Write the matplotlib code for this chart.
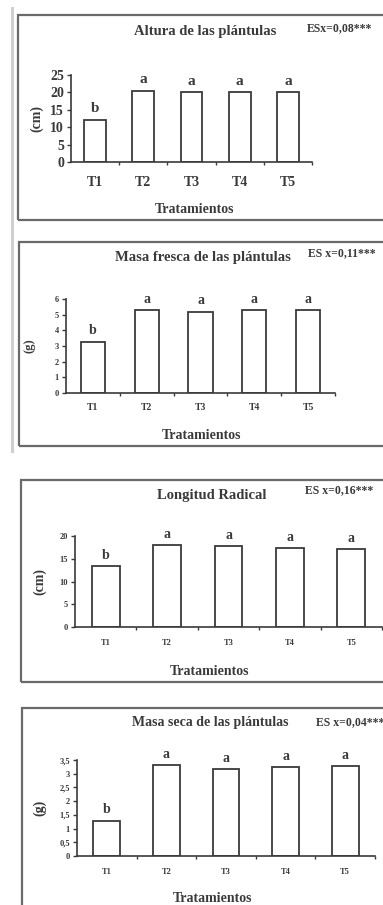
import matplotlib
matplotlib.use("Agg")
import matplotlib.pyplot as plt
from matplotlib.patches import Rectangle
from matplotlib.lines import Line2D

W, H = 383, 905

treatments = ["T1", "T2", "T3", "T4", "T5"]
letters = ["b", "a", "a", "a", "a"]

altura = [12.2, 20.5, 20.2, 20.2, 20.2]
masa_fresca = [3.28, 5.28, 5.20, 5.28, 5.28]
longitud = [13.3, 18.0, 17.8, 17.4, 17.2]
masa_seca = [1.29, 3.32, 3.16, 3.24, 3.28]

titles = ["Altura de las plántulas", "Masa fresca de las plántulas",
          "Longitud Radical", "Masa seca de las plántulas"]
es_labels = ["ESx=0,08***", "ES x=0,11***", "ES x=0,16***", "ES x=0,04***"]
ylabels = ["(cm)", "(g)", "(cm)", "(g)"]
yticks = [[0, 5, 10, 15, 20, 25], [0, 1, 2, 3, 4, 5, 6],
          [0, 5, 10, 15, 20], [0, 0.5, 1, 1.5, 2, 2.5, 3, 3.5]]
ymax = [25, 6, 20, 3.5]
values = [altura, masa_fresca, longitud, masa_seca]

# layout in pixels: frame (x, top, bottom), axes (x0, x1, top, zero)
frames = [(18, 15, 220), (19, 242, 446), (21, 480, 682), (22, 708, 912)]
axes_px = [(71, 312, 75, 162), (66, 335, 299, 393),
           (75, 382, 536, 627), (77, 375, 760, 856)]
title_pos = [(205, 32), (203, 258), (212, 495), (210, 722)]
es_pos = [(307, 28), (308, 253), (305, 490), (316, 722)]
xlab_pos = [(195, 209), (202, 435), (210, 671), (213, 898)]
ylab_x = [37, 30, 40, 40]
xtick_size = [10, 7, 6, 6]
ytick_size = [10, 6, 6, 6]
xtick_pad = [10, 7, 8.5, 8.5]
title_size = [10.5, 10.5, 10.5, 10]
ylab_size = [10, 9, 10, 10]
letter_size = [11, 10, 10, 10]

font = "Liberation Serif"
ink = "#3a3a3a"


def fx(px):
    return px / W


def fy(py):
    return 1 - py / H


fig = plt.figure(figsize=(W / 100, H / 100), dpi=100)

# faint margin line on the left of the first two panels
fig.add_artist(Line2D([fx(12), fx(12)], [fy(8), fy(451)], color="#d0d0d0", lw=2.2))

for i in range(4):
    x, top, bottom = frames[i]
    fig.add_artist(Rectangle((fx(x), fy(bottom)), fx(W + 20 - x), (bottom - top) / H,
                             fill=False, ec="#6a6a6a", lw=1.6))

    x0, x1, t, z = axes_px[i]
    ax = fig.add_axes([fx(x0), fy(z), (x1 - x0) / W, (z - t) / H])
    ax.bar(range(5), values[i], width=0.45, color="white", edgecolor=ink, linewidth=1.3)
    for k, v in enumerate(values[i]):
        ax.annotate(letters[k], (k, v), xytext=(0, 3), textcoords="offset points",
                    ha="center", va="bottom", fontsize=letter_size[i],
                    fontweight="bold", family=font, color=ink)

    ax.set_xlim(-0.5, 4.5)
    ax.set_ylim(0, ymax[i])
    ax.set_yticks(yticks[i])
    ax.set_yticklabels([f"{v:g}".replace(".", ",") for v in yticks[i]],
                       family=font, fontsize=ytick_size[i], fontweight="bold", color=ink)
    ax.set_xticks(range(5))
    ax.set_xticklabels(treatments, family=font, fontsize=xtick_size[i],
                       fontweight="bold", color=ink)
    ax.set_xticks([0.5, 1.5, 2.5, 3.5, 4.5], minor=True)
    ax.tick_params(axis="x", which="major", length=0, pad=xtick_pad[i])
    ax.tick_params(axis="x", which="minor", length=2, width=1, color=ink, direction="out")
    ax.tick_params(axis="y", length=3, width=1, color=ink, direction="out", pad=2)
    for s in ("top", "right"):
        ax.spines[s].set_visible(False)
    for s in ("left", "bottom"):
        ax.spines[s].set_color(ink)
        ax.spines[s].set_linewidth(1.2)
    ax.patch.set_alpha(0)

    fig.text(fx(title_pos[i][0]), fy(title_pos[i][1]), titles[i], ha="center", va="center",
             family=font, fontsize=title_size[i], fontweight="bold", color=ink)
    fig.text(fx(es_pos[i][0]), fy(es_pos[i][1]), es_labels[i], ha="left", va="center",
             family=font, fontsize=8.5, fontweight="bold", color=ink)
    fig.text(fx(xlab_pos[i][0]), fy(xlab_pos[i][1]), "Tratamientos", ha="center", va="center",
             family=font, fontsize=10, fontweight="bold", color=ink)
    fig.text(fx(ylab_x[i]), fy((t + z) / 2), ylabels[i], ha="center", va="center",
             rotation=90, family=font, fontsize=ylab_size[i], fontweight="bold", color=ink)

fig.savefig("out.png", dpi=100)
